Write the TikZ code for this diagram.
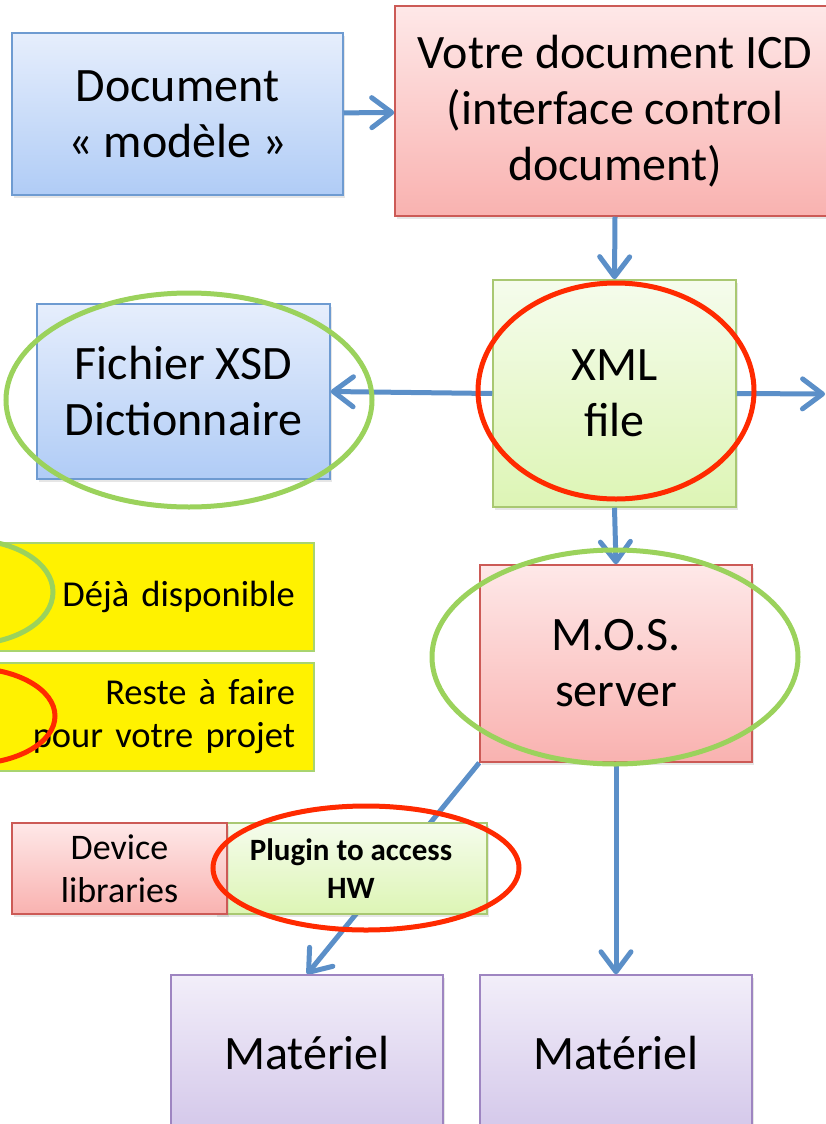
\documentclass[tikz,border=0pt]{standalone}
\usepackage{fontspec}
\setmainfont{Carlito}
\usepackage{xcolor}
\usetikzlibrary{arrows.meta,shadows,backgrounds}

\definecolor{bleuhaut}{HTML}{E6EEFC}
\definecolor{bleubas}{HTML}{B0CCF6}
\definecolor{bleubord}{HTML}{6E9BD1}
\definecolor{rosehaut}{HTML}{FEE8E8}
\definecolor{rosebas}{HTML}{F9B2B0}
\definecolor{rosebord}{HTML}{CC5A56}
\definecolor{verthaut}{HTML}{F5FCEC}
\definecolor{vertbas}{HTML}{DDF5B5}
\definecolor{vertbord}{HTML}{A9C872}
\definecolor{violethaut}{HTML}{F2EEF9}
\definecolor{violetbas}{HTML}{D4C8EA}
\definecolor{violetbord}{HTML}{9E85C1}
\definecolor{legbord}{HTML}{A8D46F}
\definecolor{fleche}{HTML}{5B8FC8}
\definecolor{rouge}{HTML}{FF2A00}
\definecolor{vertrond}{HTML}{9BD25C}

\tikzset{
  boite/.style={draw,line width=1.5pt,inner sep=0pt,align=center,
    drop shadow={opacity=0.2,shadow xshift=2pt,shadow yshift=-3pt}},
  gros/.style={font=\fontsize{48}{56}\selectfont},
  bleu/.style={boite,gros,draw=bleubord,top color=bleuhaut,bottom color=bleubas},
  rose/.style={boite,draw=rosebord,top color=rosehaut,bottom color=rosebas},
  vert/.style={boite,draw=vertbord,top color=verthaut,bottom color=vertbas},
  violet/.style={boite,gros,draw=violetbord,top color=violethaut,bottom color=violetbas},
  legende/.style={draw=legbord,line width=1.5pt,fill=yellow,inner sep=0pt,
    minimum width=334pt,minimum height=108pt,text width=296pt,align=right,
    font=\fontsize{36.5}{43}\selectfont},
  lien/.style={draw=fleche,line width=5pt,-{Straight Barb[length=20pt,width=30pt,round]}},
  rondrouge/.style={draw=rouge,line width=5pt},
  rondvert/.style={draw=vertrond,line width=5pt}
}

\begin{document}
\begin{tikzpicture}[x=1pt,y=-1pt]
\useasboundingbox (0,0) rectangle (826,1124);

% boites du haut
\node[bleu,minimum width=331pt,minimum height=162pt] (modele) at (177.5,114) {Document\\«~modèle~»};
\node[rose,gros,minimum width=440pt,minimum height=210pt] (icd) at (615,111) {Votre document ICD\\(interface control\\document)};

\node[vert,gros,minimum width=243pt,minimum height=227pt] (xml) at (614.5,393.5) {XML\\file};
\node[bleu,minimum width=293pt,minimum height=175pt] (xsd) at (183.5,391.5) {Fichier XSD\\Dictionnaire};
\coordinate (sortie) at (825,394);

\node[rose,gros,minimum width=272pt,minimum height=197pt] (mos) at (616,663.5) {M.O.S.\\server};

% legende
\node[legende] (dispo) at (147,597) {Déjà disponible};
\node[legende] (afaire) at (147,717) {Reste à faire\\pour votre projet};

% plugin
\node[vert,minimum width=272pt,minimum height=91pt,font=\fontsize{31}{38}\selectfont\bfseries] (plugin) at (351,868.5) {Plugin to access\\HW};
\node[rose,minimum width=215pt,minimum height=91pt,font=\fontsize{36}{43}\selectfont] (device) at (119.5,868.5) {Device\\libraries};

% materiel
\node[violet,minimum width=272pt,minimum height=155pt] (mat1) at (307,1052.5) {Matériel};
\node[violet,minimum width=272pt,minimum height=155pt] (mat2) at (616,1052.5) {Matériel};

% fleches
\draw[lien] (modele) -- (icd);
\draw[lien] (icd.south) -- (xml.north);
\draw[lien] (xml.west) -- (xsd.east);
\draw[lien] (xml.east) -- (sortie);
\draw[lien] (xml.south) -- (mos.north);
\draw[lien] (mos.south) -- (mat2.north);
\begin{pgfonlayer}{background}
\draw[lien] (mos.south west) -- (mat1.north);
\end{pgfonlayer}

% ellipses
\draw[rondrouge] (616,391) ellipse [x radius=138,y radius=108];
\draw[rondvert] (189,400) ellipse [x radius=183,y radius=107];
\draw[rondvert] (615,657) ellipse [x radius=183,y radius=107];
\draw[rondrouge] (366,868) ellipse [x radius=153,y radius=62];
\draw[rondvert] (-30,592) ellipse [x radius=83,y radius=52];
\draw[rondrouge] (-30,716) ellipse [x radius=85,y radius=48];
\end{tikzpicture}
\end{document}
